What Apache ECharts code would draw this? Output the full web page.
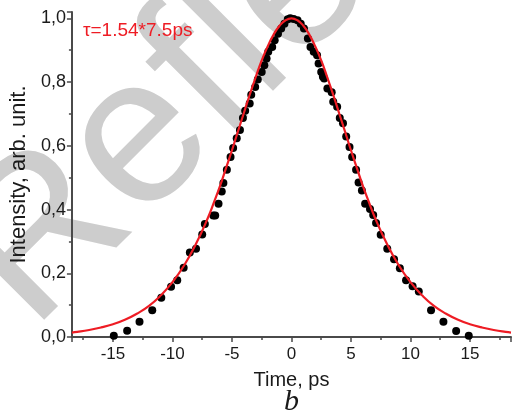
<!DOCTYPE html>
<html>
<head>
<meta charset="utf-8">
<script src="https://cdn.jsdelivr.net/npm/echarts@6/dist/echarts.min.js"></script>
<style>
  html, body { margin: 0; padding: 0; background: #fff; }
  #chart { width: 514px; height: 414px; }
</style>
</head>
<body>
<div id="chart"></div>
<script>
// Measured autocorrelation trace (time delay in ps, normalised intensity)
const measTime = [
  -14.93, -13.81, -12.77, -11.70, -10.94, -10.12, -9.60, -9.06, -8.54, -8.02,
  -7.50, -7.28, -6.57, -6.41, -6.13, -5.86, -5.72, -5.43, -5.12, -4.90,
  -4.60, -4.33, -4.08, -3.89, -3.51, -3.38, -3.05, -2.83, -2.50, -2.28,
  -2.09, -1.95, -1.62, -1.41, -1.13, -0.86, -0.59, -0.31, -0.10, 0.18,
  0.51, 0.78, 1.05, 1.38, 1.60, 1.87, 2.15, 2.28, 2.50, 2.64,
  2.75, 3.02, 3.38, 3.51, 3.84, 4.06, 4.33, 4.60, 4.88, 5.10,
  5.43, 5.64, 5.92, 6.19, 6.60, 6.87, 7.11, 7.50, 8.05, 8.62,
  9.11, 9.63, 10.18, 10.70, 11.73, 12.77, 13.84, 14.90
];
const measIntensity = [
  0.004, 0.020, 0.048, 0.084, 0.123, 0.158, 0.178, 0.217, 0.265, 0.277,
  0.322, 0.355, 0.381, 0.381, 0.418, 0.457, 0.483, 0.525, 0.565, 0.593,
  0.624, 0.650, 0.687, 0.710, 0.733, 0.760, 0.785, 0.808, 0.832, 0.853,
  0.874, 0.895, 0.910, 0.931, 0.952, 0.968, 0.983, 0.997, 1.000, 0.998,
  0.994, 0.983, 0.968, 0.937, 0.910, 0.895, 0.884, 0.858, 0.832, 0.817,
  0.811, 0.780, 0.768, 0.738, 0.723, 0.687, 0.671, 0.629, 0.596, 0.565,
  0.525, 0.485, 0.460, 0.418, 0.402, 0.383, 0.358, 0.321, 0.277, 0.244,
  0.216, 0.178, 0.159, 0.143, 0.084, 0.048, 0.019, 0.004
];

// sech^2 fit curve
const fitTime = [
  -18.45, -18, -17, -16, -15, -14, -13, -12, -11, -10, -9, -8, -7, -6.5, -6, -5.5, -5, -4.5, -4,
  -3.5, -3, -2.5, -2, -1.5, -1, -0.5, 0, 0.5, 1, 1.5, 2, 2.5, 3, 3.5,
  4, 4.5, 5, 5.5, 6, 6.5, 7, 8, 9, 10, 11, 12, 13, 14, 15, 16, 17, 18, 18.45
];
const fitIntensity = [
  0.014, 0.016, 0.022, 0.030, 0.040, 0.054, 0.073, 0.097, 0.130, 0.172, 0.226, 0.294, 0.376, 0.424, 0.474, 0.530, 0.586, 0.645, 0.703,
  0.761, 0.816, 0.868, 0.912, 0.949, 0.977, 0.994, 1.000, 0.994, 0.977, 0.949, 0.912, 0.868, 0.816, 0.761,
  0.703, 0.645, 0.586, 0.530, 0.474, 0.424, 0.376, 0.294, 0.226, 0.172, 0.130, 0.097, 0.073, 0.054, 0.040, 0.030, 0.022, 0.016, 0.014
];

const fitLabel = 'τ=1.54*7.5ps';
const xName = 'Time, ps';
const yName = 'Intensity, arb. unit.';
const panelLetter = 'b';

const measPoints = measTime.map((t, i) => [t, measIntensity[i]]);
const fitPoints = fitTime.map((t, i) => [t, fitIntensity[i]]);

const FONT = '"Liberation Sans", Arial, sans-serif';
const AXIS_COLOR = '#4a4a4a';
const TEXT_COLOR = '#1a1a1a';

const chart = echarts.init(document.getElementById('chart'), null, { renderer: 'canvas' });

const commaFmt = v => {
  const k = v * 5;
  if (Math.abs(k - Math.round(k)) > 1e-6) return '';
  return v.toFixed(1).replace('.', ',');
};

chart.setOption({
  backgroundColor: '#ffffff',
  animation: false,
  title: [
    {
      text: fitLabel,
      left: 78, top: 16,
      textStyle: { color: '#ee1c24', fontFamily: FONT, fontSize: 19, fontWeight: 'normal' }
    },
    {
      text: panelLetter,
      left: 279, top: 382,
      textStyle: { color: TEXT_COLOR, fontFamily: '"Liberation Serif", "DejaVu Serif", serif', fontSize: 30, fontStyle: 'italic', fontWeight: 'normal' }
    }
  ],
  // grey watermark lettering behind the plot
  graphic: {
    elements: [
      {
        type: 'text',
        silent: true,
        z: -10,
        x: -9, y: 291,
        rotation: Math.PI / 4,
        style: {
          text: 'Reflection',
          font: '210px "Liberation Sans", Arial, sans-serif',
          fill: '#cdcdcd',
          align: 'left',
          verticalAlign: 'middle'
        }
      }
    ]
  },
  grid: { left: 68, right: 0, top: 12, bottom: 77, containLabel: false },
  xAxis: {
    type: 'value',
    min: -18.45, max: 18.45,
    splitNumber: 7,
    name: xName,
    nameLocation: 'middle',
    nameGap: 33,
    nameTextStyle: { color: TEXT_COLOR, fontFamily: FONT, fontSize: 20 },
    axisLine: { show: true, onZero: false, lineStyle: { color: AXIS_COLOR, width: 2 } },
    axisTick: { show: true, length: 5, lineStyle: { color: AXIS_COLOR, width: 1.5 } },
    minorTick: { show: true, splitNumber: 2, length: 3, lineStyle: { color: AXIS_COLOR, width: 1.5 } },
    splitLine: { show: false },
    axisLabel: {
      color: TEXT_COLOR, fontFamily: FONT, fontSize: 17, margin: 9,
      formatter: v => (Math.abs(v / 5 - Math.round(v / 5)) < 1e-6 ? String(v) : '')
    }
  },
  yAxis: {
    type: 'value',
    min: 0, max: 1.02,
    interval: 0.2,
    name: yName,
    nameLocation: 'middle',
    nameGap: 37,
    nameTextStyle: { color: TEXT_COLOR, fontFamily: FONT, fontSize: 22 },
    axisLine: { show: true, onZero: false, lineStyle: { color: AXIS_COLOR, width: 2 } },
    axisTick: { show: true, length: 5, lineStyle: { color: AXIS_COLOR, width: 1.5 } },
    minorTick: { show: true, splitNumber: 2, length: 3, lineStyle: { color: AXIS_COLOR, width: 1.5 } },
    splitLine: { show: false },
    axisLabel: { color: TEXT_COLOR, fontFamily: FONT, fontSize: 18, margin: 6, formatter: commaFmt }
  },
  series: [
    {
      name: 'measured',
      type: 'scatter',
      data: measPoints,
      symbol: 'circle',
      symbolSize: 8,
      itemStyle: { color: '#000000', opacity: 1 },
      z: 2
    },
    {
      name: 'fit',
      type: 'line',
      data: fitPoints,
      smooth: true,
      showSymbol: false,
      symbol: 'none',
      lineStyle: { color: '#ee1c24', width: 2.2 },
      z: 3
    }
  ]
});
</script>
</body>
</html>
